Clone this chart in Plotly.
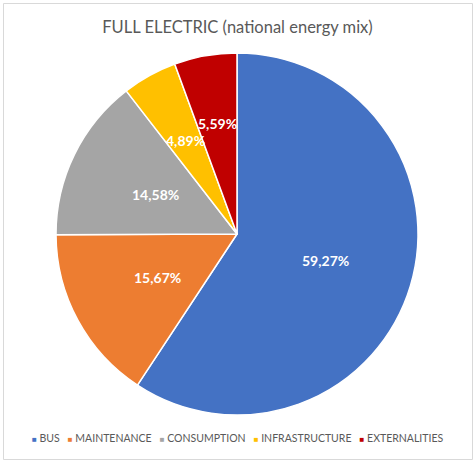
import math
import plotly.graph_objects as go

# Cost breakdown, full electric bus (national energy mix)
categories = ["BUS", "MAINTENANCE", "CONSUMPTION", "INFRASTRUCTURE", "EXTERNALITIES"]
shares = [59.27, 15.67, 14.58, 4.89, 5.59]
colors = ["#4472C4", "#ED7D31", "#A5A5A5", "#FFC000", "#C00000"]

W, H = 475, 463
FONT = "Lato"

labels_txt = [f"{v:.2f}".replace(".", ",") + "%" for v in shares]

# pie geometry in pixels
cx, cy, r = 237, 234, 181
# how far out (fraction of radius) each percentage label sits
label_radius = [0.51, 0.50, 0.50, 0.59, 0.62]

fig = go.Figure(
    go.Pie(
        labels=categories,
        values=shares,
        textinfo="none",
        sort=False,
        direction="clockwise",
        rotation=0,
        marker=dict(colors=colors, line=dict(color="white", width=1.5)),
        domain=dict(x=[(cx - r) / W, (cx + r) / W], y=[(H - cy - r) / H, (H - cy + r) / H]),
        showlegend=False,
        hoverinfo="label+percent",
    )
)

# percentage labels at the middle angle of each slice
total = sum(shares)
annotations = []
cum = 0.0
for v, txt, fr in zip(shares, labels_txt, label_radius):
    theta = 2 * math.pi * (cum + v / 2) / total
    cum += v
    px = cx + fr * r * math.sin(theta)
    py = cy - fr * r * math.cos(theta)
    annotations.append(
        dict(
            text=f"<b>{txt}</b>",
            x=px / W,
            y=1 - py / H,
            xref="paper",
            yref="paper",
            xanchor="center",
            yanchor="middle",
            showarrow=False,
            font=dict(family=FONT, size=14, color="white"),
        )
    )

# legend row: coloured squares followed by category names
gap = "&nbsp;" * 3
legend_html = gap.join(
    f'<span style="color:{c};font-size:8px">■</span>&nbsp;{name}'
    for name, c in zip(categories, colors)
)
annotations.append(
    dict(
        text=legend_html,
        x=0.5,
        y=1 - 438 / H,
        xref="paper",
        yref="paper",
        xanchor="center",
        yanchor="middle",
        showarrow=False,
        font=dict(family=FONT, size=10.5, color="#595959"),
    )
)

fig.update_layout(
    width=W,
    height=H,
    margin=dict(l=0, r=0, t=0, b=0),
    paper_bgcolor="white",
    plot_bgcolor="white",
    title=dict(
        text="FULL ELECTRIC (national energy mix)",
        x=0.5,
        xanchor="center",
        y=1 - 27 / H,
        yanchor="middle",
        font=dict(family=FONT, size=16.5, color="#595959"),
    ),
    annotations=annotations,
    shapes=[
        dict(
            type="rect",
            xref="paper",
            yref="paper",
            x0=3.5 / W,
            x1=472.5 / W,
            y0=3.5 / H,
            y1=1 - 3.5 / H,
            line=dict(color="#D9D9D9", width=1),
            fillcolor="rgba(0,0,0,0)",
        )
    ],
)

fig.write_html("out.html")
